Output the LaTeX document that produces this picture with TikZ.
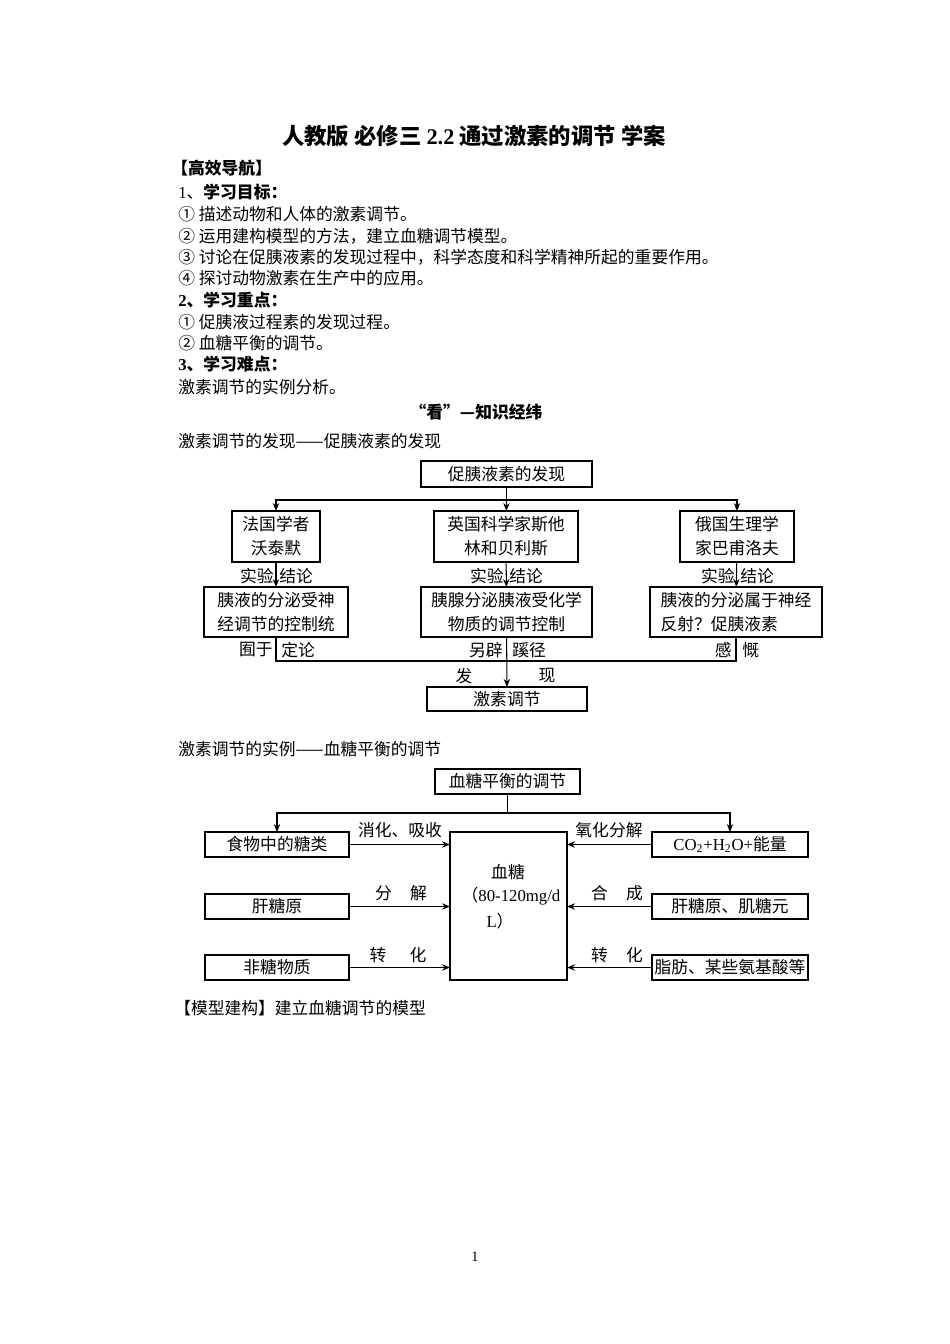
\documentclass[tikz,border=0pt]{standalone}
\usepackage{fontspec}
\setmainfont{Noto Sans CJK SC}
\newfontfamily\lat{Liberation Serif}
\usetikzlibrary{arrows.meta}
\def\pxu{0.6263pt}
\newcommand\bx[7][]{\node[bx,#1,minimum width={(#5-#3)*\pxu},minimum height={(#6-#4)*\pxu}] (#2) at ({(#3+#5)/2},{(#4+#6)/2}) {#7};}
\begin{document}
\begin{tikzpicture}[x=0.6263pt,y=-0.6263pt,
 bx/.style={draw,line width=0.65pt,inner sep=0pt,outer sep=0pt,align=center,font=\fontsize{10.5}{15}\selectfont},
 ln/.style={line width=0.65pt},
 ar/.style={line width=0.65pt,-{Stealth[length=5pt,width=4pt]}},
 tx/.style={inner sep=0pt,anchor=west,font=\fontsize{10.5}{12}\selectfont},
 lb/.style={inner sep=0pt,font=\fontsize{10.5}{12}\selectfont}]
\useasboundingbox[fill=white] (0,0) rectangle (950,1344);
% ---------- header text ----------
\node[tx,anchor=center,font=\fontsize{14}{16}\selectfont\bfseries] (title) at (474,136) {人教版 必修三 {\lat 2.2} 通过激素的调节 学案};
\node[tx,font=\fontsize{10.5}{12}\selectfont\bfseries] (h0) at (171,168) {【高效导航】};
\node[tx] (h1) at (178,192) {{\lat 1}、\textbf{学习目标：}};
\node[tx] (g1) at (178,214) {① 描述动物和人体的激素调节。};
\node[tx] (g2) at (178,236) {② 运用建构模型的方法，建立血糖调节模型。};
\node[tx] (g3) at (178,257) {③ 讨论在促胰液素的发现过程中，科学态度和科学精神所起的重要作用。};
\node[tx] (g4) at (178,278) {④ 探讨动物激素在生产中的应用。};
\node[tx,font=\fontsize{10.5}{12}\selectfont\bfseries] (h2) at (178,300) {{\lat 2}、学习重点：};
\node[tx] (k1) at (178,322) {① 促胰液过程素的发现过程。};
\node[tx] (k2) at (178,343) {② 血糖平衡的调节。};
\node[tx,font=\fontsize{10.5}{12}\selectfont\bfseries] (h3) at (178,364) {{\lat 3}、学习难点：};
\node[tx] (d1) at (178,387) {激素调节的实例分析。};
\node[tx,anchor=center,font=\fontsize{10.5}{12}\selectfont\bfseries] (kan) at (476,412) {“看”—知识经纬};
\node[tx] (s1) at (178,441) {激素调节的发现——促胰液素的发现};
% ---------- diagram 1 ----------
\bx{t}{421}{461}{592}{487}{促胰液素的发现}
\bx{a1}{232}{511}{320}{562}{法国学者\\沃泰默}
\bx{a2}{434}{511}{578}{562}{英国科学家斯他\\林和贝利斯}
\bx{a3}{680}{511}{794}{562}{俄国生理学\\家巴甫洛夫}
\bx{b1}{204}{587}{348}{637}{胰液的分泌受神\\经调节的控制统}
\bx{b2}{421}{587}{592}{637}{胰腺分泌胰液受化学\\物质的调节控制}
\bx[align=left]{b3}{650}{587}{822}{637}{胰液的分泌属于神经\\反射？促胰液素}
\bx{c}{427}{687}{587}{711}{激素调节}
\coordinate (j1) at (506.5,500);
\draw[ln] (t) -- (j1);
\draw[ar] (j1) -| (a1);
\draw[ar] (j1) -| (a3);
\draw[ar] (j1) -- (a2);
\draw[ar] (a1) -- (b1);
\draw[ar] (a2) -- (b2);
\draw[ar] (a3) -- (b3);
\foreach \n/\xx in {1/276,2/506,3/737}{
  \node[lb,anchor=east] (sy\n) at (\xx-2,576) {实验};
  \node[lb,anchor=west] (jl\n) at (\xx+3,576) {结论};
}
\coordinate (j2) at (506.5,661);
\draw[ln] (b1) |- (j2);
\draw[ln] (b3) |- (j2);
\draw[ar] (b2) -- (c);
\node[lb,anchor=east] (yy) at (273,650) {囿于};
\node[lb,anchor=west] (dl) at (281,650) {定论};
\node[lb,anchor=east] (lp) at (503,650) {另辟};
\node[lb,anchor=west] (xj) at (512,650) {蹊径};
\node[lb,anchor=east] (gan) at (732,650) {感};
\node[lb,anchor=west] (kai) at (742,650) {慨};
\node[lb] (fa) at (464,676) {发};
\node[lb] (xian) at (547,676) {现};
% ---------- second part ----------
\node[tx] (s2) at (178,749) {激素调节的实例——血糖平衡的调节};
\bx{s}{435}{769}{580}{794}{血糖平衡的调节}
\bx{m}{450}{832}{567}{980}{}
\node[lb] (m1) at (508,872) {血糖};
\node[lb] (m2) at (511,896) {（{\lat 80-120mg/d}};
\node[lb] (m3) at (500,921) {{\lat L}）};
\bx{l1}{205}{832}{349}{857}{食物中的糖类}
\bx{l2}{205}{894}{349}{919}{肝糖原}
\bx{l3}{205}{955}{349}{980}{非糖物质}
\bx{r1}{652}{832}{808}{857}{{\lat CO\textsubscript{2}+H\textsubscript{2}O+}能量}
\bx{r2}{652}{894}{808}{919}{肝糖原、肌糖元}
\bx{r3}{652}{955}{808}{980}{脂肪、某些氨基酸等}
\coordinate (j3) at (507.5,813);
\draw[ln] (s) -- (j3);
\draw[ar] (j3) -| (l1);
\draw[ar] (j3) -| (r1);
\foreach \n in {1,2,3}{
  \draw[ar] (l\n.east) -- (l\n.east -| m.west);
  \draw[ar] (r\n.west) -- (r\n.west -| m.east);
}
\node[lb] (e1) at (400,830) {消化、吸收};
\node[lb] (e2) at (401,893) {分\hspace{1.1em}解};
\node[lb] (e3) at (398,955) {转\hspace{1.4em}化};
\node[lb] (f1) at (609,830) {氧化分解};
\node[lb] (f2) at (617,893) {合\hspace{1.1em}成};
\node[lb] (f3) at (617,955) {转\hspace{1.1em}化};
\node[tx] (s3) at (174,1008) {【模型建构】建立血糖调节的模型};
\node[lb,font=\lat\fontsize{9}{10}\selectfont] (pg) at (475,1257) {1};
\end{tikzpicture}
\end{document}
